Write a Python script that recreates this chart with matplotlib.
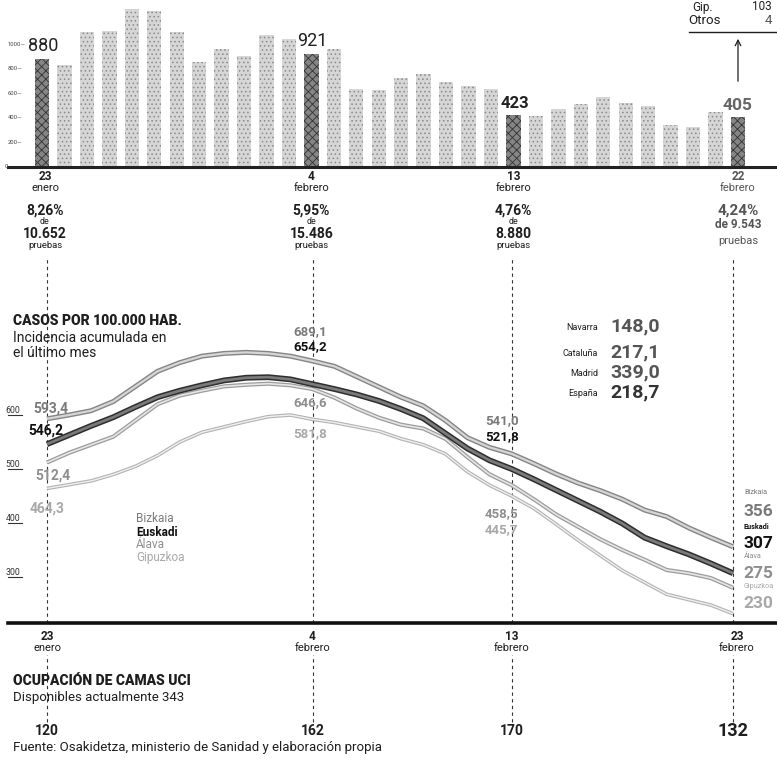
import matplotlib
matplotlib.use("Agg")
import matplotlib.pyplot as plt
import matplotlib.patheffects as pe

plt.rcParams['font.family'] = ['Roboto', 'DejaVu Sans']
plt.rcParams['hatch.linewidth'] = 0.6

# ---------------- DATA ----------------
days = list(range(32))  # 23 enero .. 23 febrero
casos_diarios = [880, 831, 1100, 1108, 1288, 1271, 1100, 856, 962, 905, 1076, 1043,
                 921, 962, 636, 628, 725, 758, 693, 660, 636, 423, 416, 473, 513,
                 570, 522, 497, 342, 326, 448, 405]
key_days = [0, 12, 21, 31]
key_day_num = ["23", "4", "13", "22"]
key_month = ["enero", "febrero", "febrero", "febrero"]
bottom_day_num = ["23", "4", "13", "23"]
positividad = ["8,26%", "5,95%", "4,76%", "4,24%"]
pruebas = ["10.652", "15.486", "8.880", "9.543"]
bar_ticks = [0, 200, 400, 600, 800, 1000]

bizkaia = [593, 600, 608, 625, 653, 681, 697, 709, 714, 716, 714, 709, 700, 690, 671, 652,
           633, 617, 590, 558, 540, 528, 510, 491, 474, 460, 444, 424, 412, 391, 373, 356]
euskadi = [546, 563, 580, 596, 615, 633, 645, 655, 664, 669, 670, 666, 657, 648, 638, 626,
           611, 594, 566, 538, 516, 500, 481, 461, 441, 421, 399, 373, 357, 342, 325, 307]
alava = [512, 530, 545, 560, 590, 620, 636, 645, 653, 656, 658, 655, 648, 632, 612, 595,
         582, 575, 556, 522, 490, 470, 444, 416, 393, 370, 350, 332, 313, 307, 298, 280]
gipuzkoa = [464, 471, 478, 490, 505, 525, 550, 568, 578, 588, 597, 600, 592, 586, 578, 570,
            556, 545, 528, 495, 470, 450, 427, 398, 368, 340, 312, 290, 268, 258, 248, 232]
line_ticks = [300, 400, 500, 600]

start_labels = ["593,4", "546,2", "512,4", "464,3"]
feb4_labels = ["689,1", "654,2", "646,6", "581,8"]
feb13_labels = ["541,0", "521,8", "458,5", "445,7"]
end_names = ["Bizkaia", "Euskadi", "Álava", "Gipuzkoa"]
end_values = ["356", "307", "275", "230"]

otras_names = ["Navarra", "Cataluña", "Madrid", "España"]
otras_values = ["148,0", "217,1", "339,0", "218,7"]

uci = ["120", "162", "170", "132"]

W, H = 777, 760
fig = plt.figure(figsize=(W / 100, H / 100), dpi=100)
fig.patch.set_facecolor("white")


def add_px_axes(x0, y0, x1, y1):
    return fig.add_axes([x0 / W, 1 - y1 / H, (x1 - x0) / W, (y1 - y0) / H])


# ---------------- BAR CHART ----------------
bx0, bstep = 42.0, 22.45
axb = add_px_axes(8, 0, 777, 167)
axb.set_xlim((8 - bx0) / bstep, (777 - bx0) / bstep)
axb.set_ylim(0, 167 / 0.1227)
for s in ["top", "right", "left"]:
    axb.spines[s].set_visible(False)
axb.spines["bottom"].set_linewidth(2.2)
axb.spines["bottom"].set_color("#222222")
axb.set_xticks([])
axb.set_yticks([])
axb.patch.set_alpha(0)

colors = []
hatch_cols = []
for i in days:
    if i in key_days:
        colors.append("#858585")
        hatch_cols.append("#333333")
    else:
        colors.append("#d6d6d6")
        hatch_cols.append("#8a8a8a")
bars = axb.bar(days, casos_diarios, width=0.64, color=colors, linewidth=0)
for b, hc, i in zip(bars, hatch_cols, days):
    b.set_hatch("xxxx" if i in key_days else "....")
    b.set_edgecolor(hc)
    b.set_linewidth(0)

ytr = axb.get_yaxis_transform()
for t in bar_ticks:
    if t:
        axb.text(0.0, t, f"{t}\u2014", transform=ytr, ha="left", va="center",
                 fontsize=4.2, color="#444444")
    else:
        axb.text(-0.004, t, "0", transform=ytr, ha="left", va="center",
                 fontsize=4.2, color="#444444")

bar_lab_style = {0: ("normal", "#222222", 13), 12: ("normal", "#222222", 13),
                 21: ("bold", "#222222", 12), 31: ("bold", "#666666", 12.5)}
for i in key_days:
    v = casos_diarios[i]
    fw, col, fs = bar_lab_style[i]
    axb.annotate(f"{v}", (i, v), xytext=(1 if i != 31 else 0, 3), textcoords="offset points",
                 ha="center", va="bottom", fontsize=fs, color=col, fontweight=fw)

# ---------------- LINE CHART ----------------
lx0, lstep = 47.0, 22.13
ly600, lscale = 415.0, 0.54
ytop_px, ybot_px = 300, 623
axl = add_px_axes(8, ytop_px, 777, ybot_px)
axl.set_xlim((8 - lx0) / lstep, (777 - lx0) / lstep)
axl.set_ylim(600 - (ybot_px - ly600) / lscale, 600 + (ly600 - ytop_px) / lscale)
for s in ["top", "right", "left"]:
    axl.spines[s].set_visible(False)
axl.spines["bottom"].set_linewidth(2.6)
axl.spines["bottom"].set_color("#111111")
axl.set_xticks([])
axl.set_yticks([])
axl.patch.set_alpha(0)

styles = [
    (bizkaia, "#d6d6d6", "#858585", 1.6, 3.6, 3),
    (gipuzkoa, "#f0f0f0", "#b2b2b2", 1.0, 2.6, 2),
    (alava, "#e6e6e6", "#9c9c9c", 1.2, 3.0, 2),
    (euskadi, "#7a7a7a", "#2e2e2e", 2.0, 4.2, 4),
]
for data, inner, outer, lw_in, lw_out, z in styles:
    axl.plot(days, data, color=inner, lw=lw_in, zorder=z, solid_capstyle="butt",
             path_effects=[pe.Stroke(linewidth=lw_out, foreground=outer), pe.Normal()])

ytr2 = axl.get_yaxis_transform()
for t in line_ticks:
    axl.text(-0.003, t + 9, f"{t}", transform=ytr2, ha="left", va="center",
             fontsize=6.3, color="#333333")
    axl.plot([0.0, 0.018], [t, t], transform=ytr2, color="#333333", lw=0.8,
             clip_on=False)

# dashed vertical guides at key dates
for k, i in enumerate(key_days):
    top_frac = (ybot_px - 258) / (ybot_px - ytop_px)
    axl.axvline(i, ymin=0.0, ymax=top_frac, color="#333333", lw=0.8,
                ls=(0, (3, 3)), clip_on=False, zorder=1)
    axl.axvline(i, ymin=(ybot_px - 722) / (ybot_px - ytop_px),
                ymax=(ybot_px - 655) / (ybot_px - ytop_px), color="#333333", lw=0.8,
                ls=(0, (3, 3)), clip_on=False, zorder=1)

# ---------------- OVERLAY TEXT ----------------
ov = fig.add_axes([0, 0, 1, 1], zorder=10)
ov.set_xlim(0, W)
ov.set_ylim(H, 0)
ov.axis("off")
ov.patch.set_alpha(0)

dark = "#1e1e1e"
bar_px = [bx0 + bstep * i for i in key_days]
line_px = [lx0 + lstep * i for i in key_days]

# date / positivity block under bars
for k in range(4):
    x = bar_px[k] + (3 if k == 0 else 0)
    c = "#555555" if k == 3 else dark
    ov.text(x, 176, key_day_num[k], ha="center", va="center", fontsize=8.5,
            fontweight="bold", color=c)
    ov.text(x, 188, key_month[k], ha="center", va="center", fontsize=8, color=c)
    ov.text(x, 211, positividad[k], ha="center", va="center",
            fontsize=11 if k == 3 else 10, fontweight="bold", color=c)
    if k < 3:
        ov.text(x, 222, "de", ha="center", va="center", fontsize=6.5, color=c)
        ov.text(x, 234, pruebas[k], ha="center", va="center", fontsize=10,
                fontweight="bold", color=c)
        ov.text(x, 246, "pruebas", ha="center", va="center", fontsize=6.8, color=c)
    else:
        ov.text(x, 225, "de " + pruebas[k], ha="center", va="center", fontsize=8.5,
                fontweight="bold", color=c)
        ov.text(x, 241, "pruebas", ha="center", va="center", fontsize=8, color=c)

# top right note
ov.text(692, 7, "Gip.", ha="left", va="center", fontsize=8.5, color=dark)
ov.text(772, 7, "103", ha="right", va="center", fontsize=8.5, color=dark)
ov.text(688, 20, "Otros", ha="left", va="center", fontsize=9.5, color=dark)
ov.text(772, 20, "4", ha="right", va="center", fontsize=9.5, color="#555555")
ov.plot([689, 777], [32, 32], color=dark, lw=1.0)
ov.annotate("", xy=(738, 36), xytext=(738, 84),
            arrowprops=dict(arrowstyle="->", color=dark, lw=0.9))

# line chart titles
ov.text(13, 321, "CASOS POR 100.000 HAB.", ha="left", va="center", fontsize=10,
        fontweight="heavy", color=dark)
ov.text(13, 338, "Incidencia acumulada en", ha="left", va="center", fontsize=10, color=dark)
ov.text(13, 353, "el último mes", ha="left", va="center", fontsize=10, color=dark)

ser_cols = ["#7a7a7a", "#111111", "#8e8e8e", "#a8a8a8"]

# start labels
sx = [33, 28, 35, 30]
sy = [409, 431, 476, 509]
for k in range(4):
    ov.text(sx[k], sy[k], start_labels[k], ha="left", va="center", fontsize=10,
            fontweight="bold", color=ser_cols[k])

# 4 febrero labels
fx = line_px[1] - 2
for k, yy in zip(range(4), [332, 347, 403, 434]):
    ov.text(fx, yy, feb4_labels[k], ha="center", va="center", fontsize=9.5,
            fontweight="bold", color=ser_cols[k])
# 13 febrero labels
gx = line_px[2] - 10
for k, yy in zip(range(4), [421, 437, 514, 530]):
    ov.text(gx, yy, feb13_labels[k], ha="center", va="center", fontsize=9.5,
            fontweight="bold", color=ser_cols[k])

# legend
for k, yy in zip(range(4), [519, 532, 545, 557]):
    ov.text(136, yy, end_names[k], ha="left", va="center", fontsize=8.5,
            fontweight="bold" if k == 1 else "normal", color=ser_cols[k])

# end labels at right edge
ex = 743
for k, (yn, yv) in enumerate(zip([493, 527, 557, 587], [511, 543, 573, 604])):
    ov.text(ex + 1, yn, end_names[k], ha="left", va="center", fontsize=5.2,
            color=ser_cols[k], fontweight="bold" if k == 1 else "normal")
    ov.text(ex, yv, end_values[k], ha="left", va="center", fontsize=12.5,
            fontweight="bold", color=ser_cols[k])

# other regions box
for k, yy in enumerate([327, 353, 373, 393]):
    ov.text(598, yy, otras_names[k], ha="right", va="center", fontsize=6.5,
            color=dark)
    ov.text(610, yy - 1, otras_values[k], ha="left", va="center", fontsize=14,
            fontweight="bold", color="#555555" if k != 3 else "#333333")

# bottom date labels
for k in range(4):
    x = line_px[k] + (4 if k == 3 else 0)
    ov.text(x, 636, bottom_day_num[k], ha="center", va="center", fontsize=8.5,
            fontweight="bold", color=dark)
    ov.text(x, 648, key_month[k], ha="center", va="center", fontsize=8, color=dark)

# UCI
ov.text(13, 681, "OCUPACIÓN DE CAMAS UCI", ha="left", va="center", fontsize=10,
        fontweight="heavy", color=dark)
ov.text(13, 697, "Disponibles actualmente 343", ha="left", va="center", fontsize=9.5,
        color=dark)
for k in range(4):
    ov.text(line_px[k], 731, uci[k], ha="center", va="center",
            fontsize=13 if k == 3 else 10, fontweight="bold", color=dark)

ov.text(13, 748, "Fuente: Osakidetza, ministerio de Sanidad y elaboración propia",
        ha="left", va="center", fontsize=9.5, color=dark)

fig.savefig("out.png", dpi=100, facecolor="white")
